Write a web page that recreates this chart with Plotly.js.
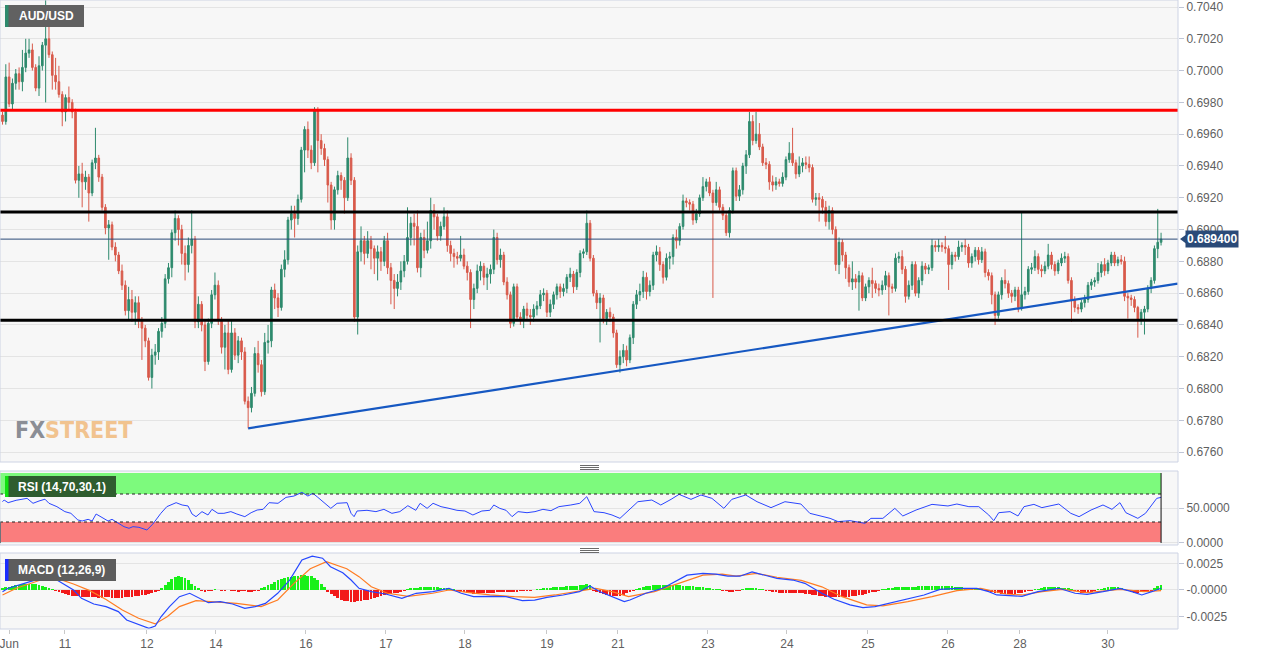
<!DOCTYPE html>
<html><head><meta charset="utf-8">
<script src="https://cdn.plot.ly/plotly-3.0.1.min.js"></script>
<style>html,body{margin:0;padding:0;background:#fff}#chart{width:1269px;height:655px}</style>
</head><body><div id="chart"></div>
<script>
// ---- DATA (prices in pips: 6894 = 0.6894) ----
const openP = [
6972,6968,6996,6979,6992,6998,6993,7002,7011,7013, 7002,6989,7003,7016,7020,7010,6997,6993,6985,6974,
6983,6980,6974,6931,6935,6930,6933,6923,6942,6945, 6933,6914,6901,6903,6889,6884,6874,6865,6849,6856,
6848,6854,6843,6838,6830,6807,6821,6823,6836,6841, 6869,6876,6898,6907,6900,6885,6878,6890,6894,6842,
6853,6840,6817,6841,6859,6865,6843,6826,6835,6812, 6835,6821,6830,6823,6792,6788,6797,6822,6815,6798,
6829,6830,6862,6857,6851,6875,6881,6906,6910,6907, 6919,6950,6963,6950,6942,6975,6956,6951,6944,6928,
6906,6925,6934,6931,6920,6945,6931,6845,6886,6893, 6885,6893,6888,6882,6886,6880,6893,6876,6868,6863,
6867,6874,6880,6895,6904,6902,6876,6895,6887,6893, 6912,6908,6896,6902,6908,6890,6885,6883,6882,6884,
6877,6873,6856,6863,6874,6877,6870,6872,6875,6895, 6881,6884,6867,6859,6841,6864,6845,6843,6850,6846,
6845,6850,6852,6859,6860,6848,6853,6859,6864,6861, 6863,6870,6872,6864,6873,6885,6886,6904,6882,6860,
6854,6857,6844,6848,6845,6835,6815,6820,6824,6818, 6832,6853,6859,6861,6870,6861,6865,6884,6886,6878,
6870,6882,6883,6895,6893,6902,6918,6917,6916,6906, 6910,6920,6927,6930,6923,6917,6925,6914,6909,6898,
6912,6937,6921,6925,6940,6947,6968,6956,6960,6952, 6942,6941,6930,6928,6930,6929,6933,6944,6948,6942,
6935,6940,6942,6941,6939,6919,6920,6919,6914,6905, 6912,6900,6878,6892,6884,6876,6867,6869,6867,6871,
6857,6864,6868,6866,6863,6862,6865,6871,6864,6863, 6882,6883,6875,6858,6865,6878,6860,6868,6877,6875,
6876,6890,6889,6890,6889,6888,6878,6884,6883,6889, 6890,6889,6879,6883,6887,6881,6886,6873,6871,6859,
6846,6859,6868,6866,6860,6858,6862,6851,6859,6861, 6875,6876,6883,6875,6874,6877,6884,6878,6874,6879,
6882,6883,6868,6856,6851,6850,6854,6856,6865,6867, 6868,6873,6878,6874,6879,6884,6879,6881,6880,6858,
6857,6856,6851,6843,6848,6850,6863,6868,6888,6892];
const highP = [
6974,7004,7005,6995,7001,7002,7013,7020,7020,7017, 7004,7009,7018,7045,7029,7012,7008,7003,6987,6985,
6990,6982,6976,6940,6942,6937,6935,6944,6964,6947, 6935,6916,6906,6905,6892,6886,6878,6868,6864,6862,
6858,6858,6845,6840,6832,6825,6828,6838,6845,6872, 6879,6900,6912,6909,6903,6890,6895,6912,6896,6858,
6855,6843,6844,6862,6873,6868,6845,6840,6843,6843, 6838,6833,6832,6826,6795,6801,6826,6830,6818,6835,
6840,6864,6866,6860,6878,6887,6908,6915,6915,6922, 6952,6965,6968,6953,6977,6977,6960,6954,6946,6930,
6927,6937,6936,6933,6958,6948,6933,6890,6902,6896, 6899,6896,6890,6890,6889,6896,6898,6879,6872,6872,
6880,6884,6914,6908,6910,6912,6898,6900,6905,6920, 6916,6910,6905,6914,6912,6893,6888,6886,6896,6888,
6880,6875,6866,6878,6880,6879,6876,6878,6900,6898, 6888,6886,6870,6861,6866,6866,6848,6852,6854,6850,
6853,6855,6862,6863,6862,6856,6861,6866,6866,6866, 6872,6876,6874,6875,6887,6888,6912,6906,6884,6862,
6860,6859,6850,6851,6847,6837,6824,6828,6827,6834, 6855,6862,6866,6874,6873,6868,6886,6890,6889,6880,
6885,6886,6897,6900,6904,6922,6920,6919,6918,6913, 6922,6933,6932,6933,6925,6930,6927,6916,6911,6914,
6939,6939,6928,6942,6950,6974,6972,6974,6967,6954, 6945,6943,6934,6933,6932,6936,6946,6955,6964,6944,
6946,6945,6946,6946,6941,6923,6923,6921,6918,6915, 6914,6902,6895,6894,6886,6878,6880,6872,6874,6873,
6866,6870,6876,6868,6866,6868,6874,6873,6866,6885, 6886,6887,6877,6868,6880,6880,6870,6880,6879,6878,
6894,6893,6894,6892,6896,6890,6886,6886,6893,6892, 6894,6891,6885,6889,6889,6889,6888,6875,6873,6861,
6861,6870,6875,6868,6862,6864,6864,6911,6864,6877, 6879,6887,6885,6878,6880,6891,6886,6880,6881,6885,
6886,6885,6870,6858,6853,6856,6859,6867,6869,6870, 6879,6880,6882,6881,6886,6886,6883,6884,6883,6860,
6859,6858,6852,6850,6852,6865,6870,6890,6913,6898];
const lowP = [
6966,6966,6977,6975,6988,6988,6987,6999,7008,7000, 6987,6984,7000,6980,7008,6988,6988,6983,6965,6968,
6975,6970,6929,6920,6914,6925,6905,6921,6938,6930, 6912,6897,6881,6887,6880,6872,6862,6846,6843,6842,
6840,6838,6818,6826,6805,6800,6815,6818,6832,6838, 6866,6870,6893,6890,6878,6868,6873,6885,6838,6838,
6836,6811,6815,6838,6856,6840,6822,6812,6809,6810, 6818,6816,6818,6790,6775,6785,6795,6810,6795,6796,
6822,6826,6850,6845,6849,6870,6878,6900,6895,6903, 6917,6936,6945,6938,6940,6936,6947,6940,6917,6900,
6900,6922,6925,6910,6918,6928,6842,6834,6880,6878, 6882,6875,6872,6868,6874,6877,6872,6853,6850,6858,
6862,6870,6878,6890,6890,6873,6870,6882,6885,6888, 6900,6893,6893,6900,6886,6880,6876,6878,6880,6875,
6868,6838,6850,6860,6868,6865,6862,6866,6872,6878, 6876,6865,6856,6838,6839,6843,6840,6838,6843,6840,
6842,6846,6850,6855,6845,6845,6850,6856,6857,6858, 6860,6867,6860,6862,6870,6882,6884,6880,6858,6850,
6829,6841,6840,6842,6832,6813,6810,6816,6814,6816, 6828,6850,6855,6857,6856,6858,6862,6880,6874,6866,
6868,6875,6878,6888,6890,6900,6914,6912,6903,6904, 6908,6918,6924,6921,6857,6915,6912,6906,6896,6895,
6910,6918,6918,6922,6935,6945,6953,6954,6950,6940, 6938,6925,6924,6925,6927,6927,6931,6942,6940,6932,
6933,6936,6938,6936,6917,6915,6905,6910,6902,6900, 6897,6874,6872,6880,6869,6864,6862,6863,6849,6855,
6855,6860,6857,6860,6858,6859,6862,6846,6860,6861, 6879,6872,6854,6856,6862,6858,6857,6865,6872,6872,
6874,6886,6886,6886,6885,6862,6875,6880,6881,6886, 6884,6876,6876,6880,6878,6879,6870,6868,6853,6840,
6844,6856,6863,6857,6854,6855,6848,6849,6856,6859, 6872,6874,6872,6870,6872,6875,6875,6871,6872,6877,
6879,6866,6842,6848,6847,6848,6851,6854,6862,6864, 6866,6870,6871,6872,6877,6877,6877,6878,6855,6844,
6852,6848,6832,6840,6834,6848,6860,6866,6882,6890];
const closeP = [
6968,6996,6979,6992,6998,6993,7002,7011,7013,7002, 6989,7003,7016,7020,7010,6997,6993,6985,6974,6983,
6980,6974,6931,6935,6930,6933,6923,6942,6945,6933, 6914,6901,6903,6889,6884,6874,6865,6849,6856,6848,
6854,6843,6838,6830,6807,6821,6823,6836,6841,6869, 6876,6898,6907,6900,6885,6878,6890,6894,6842,6853,
6840,6817,6841,6859,6865,6843,6826,6835,6812,6835, 6821,6830,6823,6792,6788,6797,6822,6815,6798,6829,
6830,6862,6857,6851,6875,6881,6906,6910,6907,6919, 6950,6963,6950,6942,6975,6956,6951,6944,6928,6906,
6925,6934,6931,6920,6945,6931,6845,6886,6893,6885, 6893,6888,6882,6886,6880,6893,6876,6868,6863,6867,
6874,6880,6895,6904,6902,6876,6895,6887,6893,6912, 6908,6896,6902,6908,6890,6885,6883,6882,6884,6877,
6873,6856,6863,6874,6877,6870,6872,6875,6895,6881, 6884,6867,6859,6841,6864,6845,6843,6850,6846,6845,
6850,6852,6859,6860,6848,6853,6859,6864,6861,6863, 6870,6872,6864,6873,6885,6886,6904,6882,6860,6854,
6857,6844,6848,6845,6835,6815,6820,6824,6818,6832, 6853,6859,6861,6870,6861,6865,6884,6886,6878,6870,
6882,6883,6895,6893,6902,6918,6917,6916,6906,6910, 6920,6927,6930,6923,6917,6925,6914,6909,6898,6912,
6937,6921,6925,6940,6947,6968,6956,6960,6952,6942, 6941,6930,6928,6930,6929,6933,6944,6948,6942,6935,
6940,6942,6941,6939,6919,6920,6919,6914,6905,6912, 6900,6878,6892,6884,6876,6867,6869,6867,6871,6857,
6864,6868,6866,6863,6862,6865,6871,6864,6863,6882, 6883,6875,6858,6865,6878,6860,6868,6877,6875,6876,
6890,6889,6890,6889,6888,6878,6884,6883,6889,6890, 6889,6879,6883,6887,6881,6886,6873,6871,6859,6846,
6859,6868,6866,6860,6858,6862,6851,6859,6861,6875, 6876,6883,6875,6874,6877,6884,6878,6874,6879,6882,
6883,6868,6856,6851,6850,6854,6856,6865,6867,6868, 6873,6878,6874,6879,6884,6879,6881,6880,6858,6857,
6856,6851,6843,6848,6850,6863,6868,6888,6892,6894];

const resistanceLevel = [0.6975];
const rangeLevels = [0.6911, 0.6843];
const lastPrice = 0.6894;
const trendIdx = [74, 354];
const trendVal = [0.6775, 0.6866];

const tickIdx = [2, 18.8, 43.5, 64.3, 91.4, 115.5, 139.3, 164, 185.4, 212.5, 236.3, 260.7, 284.8, 306.5, 333];
const tickText = ['Jun','11','12','14','16','17','18','19','21','23','24','25','26','28','30'];

const rsiIdx = [0,0.5,1.7,4.1,7.4,9.2,11,12.8,14,16.4,18.8,20.6,22.7,24,25.8,27,28.2,30,31.8,33,34.8,36.6,38.1,39.3,41.1,43.5,45.3,47.7,49.5,52.3,54.1,55.9,57.1,58.3,60.1,61.9,63.1,64.9,66.7,68.8,70.6,73,74.9,76.7,78.5,80.3,83,85.4,87.8,90.2,92,93.5,95,97.7,98.9,100.8,103.8,105,105.9,106.8,109.8,112.5,114.9,117.3,119.7,122.1,124.5,125.8,127.9,129.7,132.1,134.5,136.9,139.3,141.7,144.4,146.8,148,149.8,151.7,153.5,155.3,158,160.4,162.8,165.2,167.6,171.2,173.9,176,178.2,181.2,183.6,186,188.7,191.4,195.6,198.3,201.4,203.8,207.4,210.4,213.7,217.3,219.7,223.9,227.3,231.5,235.7,240.5,243.2,246.8,249.3,251.7,255.3,259.8,261.6,265.2,266.4,268.8,271.2,275.2,280,284.8,287.5,291.1,294.1,297.1,298.6,300.1,303.5,305.9,307.7,310.7,313.1,318.2,321.8,324.3,327.9,331.5,334.2,336.6,338.4,342,344.3,347.7,349];
const rsiVal = [59,61.4,57.6,61,63.8,56.7,60,62.6,56.7,51.9,44.8,42.4,32.9,31.4,33.8,31.4,41.4,36.7,31.4,33.8,28.1,23.3,21,23.3,22.4,18.6,27.1,42.4,51.9,57.6,54.3,52.9,41.4,37.6,44.8,40,48.1,42.4,42.4,44.8,41.4,37.6,43.3,47.1,48.1,57.6,56.7,65.2,67.1,72.4,67.1,71,65.2,54.3,49.5,56.7,57.6,42.4,37.6,45.7,46.7,44.8,48.1,42.4,44.8,53.3,46.7,56.7,49.5,56.7,51.9,49.5,46.7,45.7,40,45.7,46.7,54.3,49.5,46.7,37.6,44.8,43.3,44.8,48.1,46.2,51.9,54.3,56.7,66.2,44.8,43.3,40,35.2,46.7,59,61.4,54.3,62.4,69.5,62.4,68.6,63.8,49.5,62.4,68.6,59,50.5,59,55.7,42.4,38.6,35.2,30.5,31.9,28.1,35.2,35.2,40,49.5,38.6,47.1,55.2,52.9,55.7,51.9,51.9,40,31.9,43.3,44.8,38.6,51.9,55.2,50.5,55.7,42.4,37.6,47.1,54.3,48.1,57.6,43.3,35.2,42.4,63.8,65.2];

// MACD values in units of 1e-5
const macdIdx = [0,1.7,6.6,11.5,14,16.4,18.9,21.4,23.8,27.5,31.2,34.9,37.4,41,44.1,46,47.8,50.3,53.3,56.4,59.5,62,65.6,69.3,73,76.1,79.2,82.9,86.5,90.2,93.3,96.4,98.8,102.5,105,107.4,111.1,115.4,120.3,124.6,129.6,134.5,138.2,141.9,146.8,151.7,156.6,160.3,164,168.9,173.8,176.9,180,183.6,187.3,189,193.8,198.9,203.8,206.2,211,214.9,218.5,222.1,225.8,229.7,233.3,238.1,241.7,246.8,250.5,255.3,259.2,262.8,267.6,272.7,277.6,282.4,287.5,293.5,297.1,299.5,307.1,311.9,318.2,323.1,326.7,331.5,336.6,340.2,343.2,346.2,349];
const macdVal = [-16,16,63,110,120,94,47,0,-79,-132,-157,-204,-283,-324,-362,-340,-250,-157,-63,-31,-79,-120,-110,-132,-173,-157,-126,-31,94,283,320,300,220,163,94,16,-16,-38,-79,-31,-16,16,-31,-63,-60,-63,-100,-96,-70,-47,-16,38,-16,-63,-110,-94,-31,16,94,140,157,150,130,130,170,140,110,94,63,-31,-88,-140,-167,-157,-120,-79,-47,6,16,16,-16,-47,-60,-16,16,-31,-41,-16,16,-16,-47,-16,16];
const signalIdx = [0,4.2,11.5,16.4,21.4,26.3,31.2,36.1,41,46,49.7,53.3,58.3,64.4,70.5,77.9,82.9,87.8,92.7,97.6,103.7,107.4,111.1,116,122.2,129.6,134.5,140.6,146.8,154.2,160.3,166.4,173.8,178.7,183.6,188.6,196.4,203.8,211,216.8,221,227.1,233.3,240.6,246.8,252.9,260.3,265.2,272.7,280,287.5,294.7,302.1,307.1,313.2,319.3,326.7,336.6,343.9,349];
const signalVal = [-47,16,94,110,57,-6,-89,-189,-267,-320,-250,-157,-100,-110,-126,-157,-94,63,200,267,200,126,31,-31,-60,-31,0,-25,-47,-63,-70,-47,-6,16,-16,-63,-16,63,140,150,130,157,120,90,30,-63,-140,-150,-110,-63,-6,16,-38,-47,-16,6,-25,6,-16,-6];
const histVal = [
20,25,30,35,45,50,55,55,55,60,55,50,40,30,20,10,
-10,-20,-30,-40,-50,-55,-60,-60,
-65,-65,-70,-70,-70,-72,-72,-70,-70,-72,-75,-75,-72,-70,-68,-65,-60,
-55,-50,-45,-40,-30,-20,-10,
20,50,80,105,120,130,125,110,90,60,35,15,
-10,-15,-10,-5,5,0,-5,-5,0,-5,-10,-15,-10,-5,-15,-20,-10,-5,
20,30,45,60,75,90,100,110,120,125,130,135,140,140,135,130,115,90,60,25,
-20,-40,-60,-80,-95,-100,-105,-110,-110,-105,-100,-95,-90,-85,-80,-70,-60,-50,-40,-35,-30,-25,-20,-10,
10,15,20,20,25,25,30,30,25,25,20,20,15,10,5,
-5,-10,-20,-25,-30,-35,-35,-30,-30,-30,-25,-25,-20,-20,-15,-15,-20,-20,-15,-10,-10,-5,-5,0,5,
10,15,20,20,25,25,30,30,35,35,40,40,45,50,55,50,
-10,-20,-30,-40,-50,-55,-60,-60,-55,-45,-30,-20,-10,
10,20,30,35,40,45,50,50,50,50,48,45,45,45,42,40,38,35,32,30,25,20,15,10,5,5,
-5,-10,-15,-15,-10,-5,
10,15,20,20,15,10,5,
-5,-10,-15,-20,-25,-25,-25,-25,-25,-25,-30,-30,-35,-40,-45,-50,-55,-60,-65,-65,-68,-70,-70,-70,-68,-65,-60,-55,-50,-45,-40,-30,-20,-15,-10,
5,10,15,20,25,25,25,30,30,30,30,35,35,35,35,40,40,40,40,40,38,35,30,25,25,20,20,15,10,10,5,
-5,-10,-20,-25,-30,-35,-40,-40,-40,-35,-30,-25,-20,-10,-5,
5,10,20,25,25,30,30,25,20,20,15,10,
-10,-20,-25,-25,-20,-15,-5,
5,10,20,25,30,30,25,20,10,
-10,-20,-25,-25,-20,-15,-10,-5,
20,35,50];

// ---- BUILD ----
const N = closeP.length;
const idx = closeP.map((_, i) => i);
const P = v => v / 10000;
const E5 = v => v / 100000;
const W = 1178, H = 629;
const px = x => x / W;
const py = y => 1 - y / H;
const xMin = -0.75, xMax = 354.1;
const gridC = '#e4e4e4', borderC = '#cdd3e4', tickFont = {family: 'Liberation Sans, Arial, sans-serif', size: 12, color: '#5f5f5f'};

const traces = [
  {type: 'candlestick', x: idx, open: openP.map(P), high: highP.map(P), low: lowP.map(P), close: closeP.map(P),
   xaxis: 'x', yaxis: 'y', whiskerwidth: 0, hoverinfo: 'skip', showlegend: false,
   increasing: {line: {color: '#2e8a6d', width: 1}, fillcolor: '#2e8a6d'},
   decreasing: {line: {color: '#d85a4b', width: 1}, fillcolor: '#d85a4b'}},
  {type: 'scatter', mode: 'lines', x: trendIdx, y: trendVal, xaxis: 'x', yaxis: 'y',
   line: {color: '#1658c2', width: 2.2}, hoverinfo: 'skip', showlegend: false, cliponaxis: true},
  {type: 'scatter', mode: 'lines', x: rsiIdx, y: rsiVal, xaxis: 'x', yaxis: 'y2',
   line: {color: '#2a45ff', width: 1}, hoverinfo: 'skip', showlegend: false},
  {type: 'bar', x: idx.slice(0, histVal.length), y: histVal.map(E5), xaxis: 'x', yaxis: 'y3', width: 0.85,
   marker: {color: histVal.map(v => v >= 0 ? '#19f019' : '#f21a1a'), line: {width: 0}}, hoverinfo: 'skip', showlegend: false},
  {type: 'scatter', mode: 'lines', x: signalIdx, y: signalVal.map(E5), xaxis: 'x', yaxis: 'y3',
   line: {color: '#ff7c22', width: 1.2}, hoverinfo: 'skip', showlegend: false},
  {type: 'scatter', mode: 'lines', x: macdIdx, y: macdVal.map(E5), xaxis: 'x', yaxis: 'y3',
   line: {color: '#2547ff', width: 1.2}, hoverinfo: 'skip', showlegend: false}
];

const shapes = [];
// horizontal levels
shapes.push({type: 'line', xref: 'paper', yref: 'y', x0: 0, x1: 1, y0: lastPrice, y1: lastPrice, line: {color: '#2a4a78', width: 1}});
resistanceLevel.forEach(v => shapes.push({type: 'line', xref: 'paper', yref: 'y', x0: 0, x1: 1, y0: v, y1: v, line: {color: '#ff0000', width: 3}}));
rangeLevels.forEach(v => shapes.push({type: 'line', xref: 'paper', yref: 'y', x0: 0, x1: 1, y0: v, y1: v, line: {color: '#000000', width: 3}}));
// RSI zones
shapes.push({type: 'rect', xref: 'x', yref: 'y2', x0: xMin, x1: N - 1, y0: 70, y1: 100, fillcolor: '#7dfa7d', line: {width: 0}, layer: 'below'});
shapes.push({type: 'rect', xref: 'x', yref: 'y2', x0: xMin, x1: N - 1, y0: 0, y1: 30, fillcolor: '#fa7d7d', line: {width: 0}, layer: 'below'});
[70, 30].forEach(v => shapes.push({type: 'line', xref: 'x', yref: 'y2', x0: xMin, x1: N - 1, y0: v, y1: v, line: {color: '#222', width: 1, dash: 'dot'}}));
shapes.push({type: 'line', xref: 'x', yref: 'y2', x0: N - 1, x1: N - 1, y0: 0, y1: 100, line: {color: '#111', width: 1}});
shapes.push({type: 'line', xref: 'x', yref: 'y2', x0: xMin + 0.15, x1: xMin + 0.15, y0: 0, y1: 30, line: {color: '#111', width: 1}});
// panel borders
[[0, 462], [471, 545], [553, 629]].forEach(([a, b]) => shapes.push({type: 'rect', xref: 'paper', yref: 'paper', x0: 0, x1: 1, y0: py(b), y1: py(a), line: {color: borderC, width: 1}, fillcolor: 'rgba(0,0,0,0)'}));
// splitter grips
[465.5, 548.5].forEach(y0 => { for (let k = 0; k < 3; k++) shapes.push({type: 'line', xref: 'paper', yref: 'paper', x0: px(580), x1: px(599), y0: py(y0 + 2 * k), y1: py(y0 + 2 * k), line: {color: '#6b6b6b', width: 1}}); });
// label boxes
const box = (x0, y0, x1, y1, fill, bar) => {
  shapes.push({type: 'rect', xref: 'paper', yref: 'paper', x0: px(x0), x1: px(x1), y0: py(y1), y1: py(y0), fillcolor: fill, line: {width: 0}});
  shapes.push({type: 'rect', xref: 'paper', yref: 'paper', x0: px(x0), x1: px(x0 + 3.5), y0: py(y1), y1: py(y0), fillcolor: bar, line: {width: 0}});
};
box(5, 5, 84, 27, '#616161', '#2e8a6d');
box(5, 476, 116, 497, '#2f5d2f', '#11e011');
box(5, 559, 116, 581, '#5d5d5d', '#1a2cff');
// price tag pointer
shapes.push({type: 'path', xref: 'paper', yref: 'y', path: `M ${px(1180)} ${lastPrice} L ${px(1186)} ${lastPrice + 0.00028} L ${px(1186)} ${lastPrice - 0.00028} Z`, fillcolor: '#2a4a78', line: {width: 0}});

const lblFont = {family: 'Liberation Sans, Arial, sans-serif', size: 12, color: '#ffffff'};
const annotations = [
  {xref: 'paper', yref: 'paper', x: px(17), y: py(16), xanchor: 'left', yanchor: 'middle', text: '<b>AUD/USD</b>', showarrow: false, font: lblFont},
  {xref: 'paper', yref: 'paper', x: px(16), y: py(487), xanchor: 'left', yanchor: 'middle', text: '<b>RSI (14,70,30,1)</b>', showarrow: false, font: lblFont},
  {xref: 'paper', yref: 'paper', x: px(16), y: py(570), xanchor: 'left', yanchor: 'middle', text: '<b>MACD (12,26,9)</b>', showarrow: false, font: lblFont},
  {xref: 'paper', yref: 'y', x: px(1185), y: lastPrice, xanchor: 'left', yanchor: 'middle', text: '<b>0.689400</b>', showarrow: false,
   font: {family: 'Liberation Sans, Arial, sans-serif', size: 12, color: '#ffffff'}, bgcolor: '#2a4a78', borderpad: 1},
  {xref: 'paper', yref: 'paper', x: px(13), y: py(430), xanchor: 'left', yanchor: 'middle', showarrow: false,
   text: '<b><span style="color:#8b8e95">FX</span><span style="color:#f1c38f">STREET</span></b>',
   font: {family: 'DejaVu Sans Condensed, DejaVu Sans, sans-serif', size: 23}}
];

const layout = {
  width: 1269, height: 655, margin: {l: 0, r: 91, t: 0, b: 26},
  paper_bgcolor: '#ffffff', plot_bgcolor: '#f7f7f7', showlegend: false, dragmode: false,
  bargap: 0,
  xaxis: {range: [xMin, xMax], anchor: 'y3', tickvals: tickIdx, ticktext: tickText, ticks: 'outside', ticklen: 4,
          tickcolor: '#c8c8c8', showgrid: false, zeroline: false, showline: false, tickfont: tickFont,
          rangeslider: {visible: false}, fixedrange: true, ticklabeloverflow: 'allow'},
  yaxis: {domain: [py(462), 1], range: [0.67538, 0.70444], side: 'right', anchor: 'x',
          tickvals: [0.676,0.678,0.680,0.682,0.684,0.686,0.688,0.690,0.692,0.694,0.696,0.698,0.700,0.702,0.704],
          tickformat: '.4f', ticks: 'outside', ticklen: 5, tickcolor: '#bfc5d6', gridcolor: gridC, zeroline: false,
          showline: false, tickfont: tickFont, fixedrange: true},
  yaxis2: {domain: [py(545), py(471)], range: [-2.9, 102.9], side: 'right', anchor: 'x',
           tickvals: [0, 50], ticktext: ['0.0000', '50.0000'], ticks: 'outside', ticklen: 5, tickcolor: '#bfc5d6',
           gridcolor: gridC, zeroline: false, showline: false, tickfont: tickFont, fixedrange: true},
  yaxis3: {domain: [0, py(553)], range: [-0.00368, 0.00349], side: 'right', anchor: 'x',
           tickvals: [-0.0025, 0, 0.0025], ticktext: ['-0.0025', '-0.0000', '0.0025'], ticks: 'outside', ticklen: 5, tickcolor: '#bfc5d6',
           gridcolor: gridC, zeroline: false, showline: false, tickfont: tickFont, fixedrange: true},
  shapes: shapes, annotations: annotations
};

Plotly.newPlot('chart', traces, layout, {staticPlot: true, displayModeBar: false});
</script>
</body></html>
